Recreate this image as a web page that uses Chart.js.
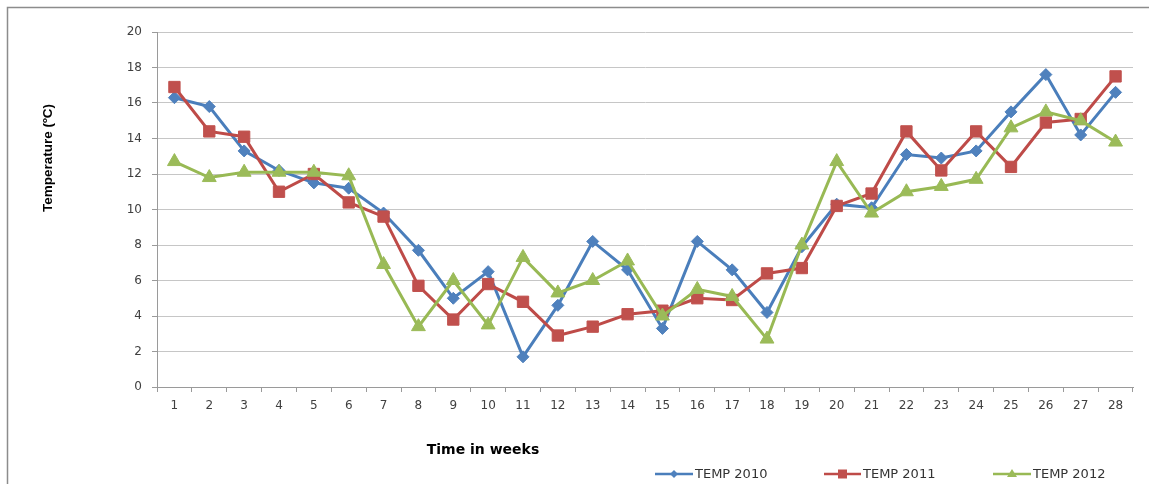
<!DOCTYPE html>
<html>
<head>
<meta charset="utf-8">
<script src="https://cdn.jsdelivr.net/npm/chart.js@4"></script>
<style>
  html, body { margin: 0; padding: 0; background: #ffffff; }
  #wrap { width: 1149px; height: 484px; position: relative; }
</style>
</head>
<body>
<div id="wrap"><canvas id="chart" width="1149" height="484"></canvas></div>
<script>
// Weekly temperatures, weeks 1-28
const weeks = ['1','2','3','4','5','6','7','8','9','10','11','12','13','14','15','16','17','18','19','20','21','22','23','24','25','26','27','28'];
const temp2010 = [16.3, 15.8, 13.3, 12.2, 11.5, 11.2, 9.8, 7.7, 5.0, 6.5, 1.7, 4.6, 8.2, 6.6, 3.3, 8.2, 6.6, 4.2, 7.9, 10.3, 10.1, 13.1, 12.9, 13.3, 15.5, 17.6, 14.2, 16.6];
const temp2011 = [16.9, 14.4, 14.1, 11.0, 12.0, 10.4, 9.6, 5.7, 3.8, 5.8, 4.8, 2.9, 3.4, 4.1, 4.3, 5.0, 4.9, 6.4, 6.7, 10.2, 10.9, 14.4, 12.2, 14.4, 12.4, 14.9, 15.1, 17.5];
const temp2012 = [12.7, 11.8, 12.1, 12.1, 12.1, 11.9, 6.9, 3.4, 6.0, 3.5, 7.3, 5.3, 6.0, 7.1, 4.0, 5.5, 5.1, 2.7, 8.0, 12.7, 9.8, 11.0, 11.3, 11.7, 14.6, 15.5, 15.0, 13.8];
const seriesNames = ['TEMP 2010', 'TEMP 2011', 'TEMP 2012'];
const yTitle = 'Temperature (ºC)';
const xTitle = 'Time in weeks';

const lineColors = ['#4a7ebb', '#be4b48', '#98b954'];
const fillColors = ['#4f81bd', '#c0504d', '#9bbb59'];
const markers = ['rectRot', 'rect', 'triangle'];
const markerRadius = [6, 8, 8];

// Frame, axis titles and legend
const decorations = {
  id: 'decorations',
  beforeDraw(chart) {
    const ctx = chart.ctx;
    ctx.save();
    ctx.fillStyle = '#ffffff';
    ctx.fillRect(0, 0, chart.width, chart.height);
    ctx.strokeStyle = '#8c8c8c';
    ctx.lineWidth = 1.5;
    ctx.beginPath();
    ctx.moveTo(7.5, chart.height);
    ctx.lineTo(7.5, 7.5);
    ctx.lineTo(chart.width, 7.5);
    ctx.stroke();
    ctx.restore();
  },
  afterDraw(chart) {
    const ctx = chart.ctx;
    ctx.save();
    ctx.fillStyle = '#000000';
    // y-axis title
    ctx.font = 'bold 13.5px "Liberation Sans", Arial, sans-serif';
    ctx.textAlign = 'center';
    ctx.textBaseline = 'middle';
    ctx.translate(48, 158);
    ctx.rotate(-Math.PI / 2);
    ctx.fillText(yTitle, 0, 0);
    ctx.restore();

    ctx.save();
    ctx.fillStyle = '#000000';
    ctx.font = 'bold 14px "DejaVu Sans", sans-serif';
    ctx.textAlign = 'center';
    ctx.textBaseline = 'middle';
    ctx.fillText(xTitle, 483, 450);

    // legend
    const items = [
      { x0: 655, x1: 693, tx: 695 },
      { x0: 824, x1: 861, tx: 863 },
      { x0: 993, x1: 1031, tx: 1033 }
    ];
    const ly = 474;
    ctx.font = '13px "DejaVu Sans", sans-serif';
    ctx.textAlign = 'left';
    items.forEach((it, i) => {
      ctx.strokeStyle = lineColors[i];
      ctx.lineWidth = 2.5;
      ctx.beginPath();
      ctx.moveTo(it.x0, ly);
      ctx.lineTo(it.x1, ly);
      ctx.stroke();
      ctx.fillStyle = fillColors[i];
      const cx = (it.x0 + it.x1) / 2;
      ctx.beginPath();
      if (i === 0) {
        ctx.moveTo(cx, ly - 4); ctx.lineTo(cx + 4, ly); ctx.lineTo(cx, ly + 4); ctx.lineTo(cx - 4, ly);
      } else if (i === 1) {
        ctx.rect(cx - 4.5, ly - 4.5, 9, 9);
      } else {
        ctx.moveTo(cx, ly - 5); ctx.lineTo(cx + 5, ly + 3); ctx.lineTo(cx - 5, ly + 3);
      }
      ctx.closePath();
      ctx.fill();
      ctx.fillStyle = '#333333';
      ctx.fillText(seriesNames[i], it.tx, ly + 0.5);
    });
    ctx.restore();
  }
};

const allSeries = [temp2010, temp2011, temp2012];

new Chart(document.getElementById('chart'), {
  type: 'line',
  data: {
    labels: weeks,
    datasets: allSeries.map((vals, i) => ({
      label: seriesNames[i],
      data: vals,
      borderColor: lineColors[i],
      borderWidth: 3,
      backgroundColor: fillColors[i],
      pointBackgroundColor: fillColors[i],
      pointBorderColor: fillColors[i],
      pointBorderWidth: 1,
      pointStyle: markers[i],
      pointRadius: markerRadius[i],
      pointHoverRadius: markerRadius[i],
      tension: 0,
      fill: false,
      order: 2 - i
    }))
  },
  options: {
    responsive: false,
    animation: false,
    events: [],
    layout: { padding: { top: 32, right: 16, bottom: 0, left: 0 } },
    plugins: {
      legend: { display: false },
      title: { display: false },
      tooltip: { enabled: false }
    },
    scales: {
      x: {
        type: 'category',
        offset: true,
        grid: {
          offset: true,
          drawOnChartArea: false,
          drawTicks: true,
          tickLength: 5,
          color: '#9a9a9a'
        },
        border: { color: '#9a9a9a', width: 1 },
        ticks: {
          color: '#404040',
          font: { family: '"DejaVu Sans", sans-serif', size: 12 },
          padding: 7,
          maxRotation: 0,
          autoSkip: false
        },
        afterFit(scale) { scale.height = 97; }
      },
      y: {
        min: 0,
        max: 20,
        ticks: {
          stepSize: 2,
          color: '#404040',
          font: { family: '"DejaVu Sans", sans-serif', size: 12 },
          padding: 10
        },
        grid: {
          color: '#c6c6c6',
          tickColor: '#9a9a9a',
          tickLength: 5,
          lineWidth: 1
        },
        border: { color: '#9a9a9a', width: 1 },
        afterFit(scale) { scale.width = 157; }
      }
    }
  },
  plugins: [decorations]
});
</script>
</body>
</html>
